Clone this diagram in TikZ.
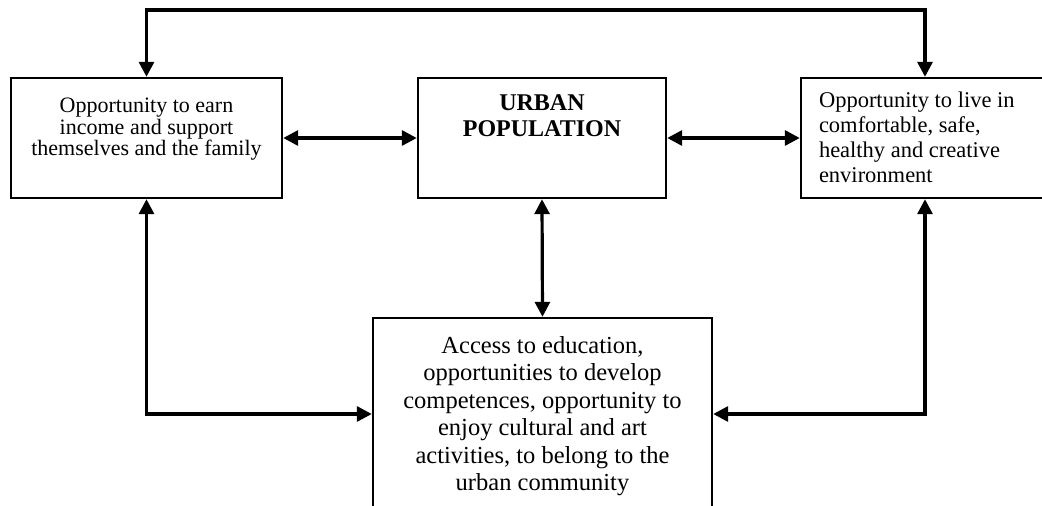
\documentclass[tikz,border=0pt]{standalone}
\usepackage{fontspec}
\setmainfont{Liberation Serif}
\usetikzlibrary{arrows.meta, positioning}

\begin{document}
\begin{tikzpicture}[x=1pt, y=-1pt, >={Triangle[length=15pt, width=15pt]},
  box/.style={draw, line width=2.4pt, inner sep=0pt},
  txt/.style={inner sep=0pt, align=center},
  link/.style={<->, line width=3.2pt}]
\useasboundingbox (0,0) rectangle (1042,506);
\clip (0,0) rectangle (1042,506);
% boxes
\node[box, minimum width=271pt, minimum height=120pt] (earn) at (146.5,138) {};
\node[box, minimum width=248pt, minimum height=120pt] (urban) at (542,138) {};
\node[box, minimum width=248pt, minimum height=120pt] (live) at (925,138) {};
\node[box, minimum width=339pt, minimum height=192pt] (access) at (542.5,414) {};
% texts
\node[txt, below=21pt of earn.north, font=\fontsize{22}{21.5}\selectfont] (earntext)
  {Opportunity to earn\\income and support\\themselves and the family};
\node[txt, below=18pt of urban.north, font=\fontsize{24}{26}\selectfont\bfseries] (urbantext)
  {URBAN\\POPULATION};
\node[txt, align=left, below right=15pt and 19pt of live.north west, font=\fontsize{22.5}{25}\selectfont] (livetext)
  {Opportunity to live in\\comfortable, safe,\\healthy and creative\\environment};
\node[txt, below=19pt of access.north, font=\fontsize{24.5}{27.5}\selectfont] (accesstext)
  {Access to education,\\opportunities to develop\\competences, opportunity to\\enjoy cultural and art\\activities, to belong to the\\urban community};
% links
\coordinate (topbend) at (540,10);
\draw[link] (earn.north) |- (topbend) -| (live.north);
\draw[link] (earn.east) -- (urban.west);
\draw[link] (urban.east) -- (live.west);
\draw[link] (urban.south) -- (access.north);
\draw[link] (earn.south) |- (access.west);
\draw[link] (live.south) |- (access.east);
\end{tikzpicture}
\end{document}
